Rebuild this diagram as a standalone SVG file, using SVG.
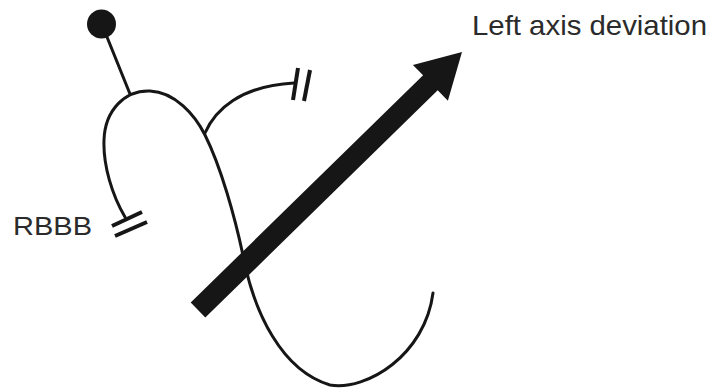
<svg xmlns="http://www.w3.org/2000/svg" width="713" height="388" viewBox="0 0 713 388">
<style>
.ln{fill:none;stroke:#161616;stroke-width:3;stroke-linecap:round}
.bar{fill:none;stroke:#161616;stroke-width:4;stroke-linecap:butt}
.lbl{font-family:"Liberation Sans",Arial,sans-serif;fill:#2b2b2b}
</style>
<rect width="713" height="388" fill="#ffffff"/>
<g id="connectors">
<line class="ln" x1="107" y1="37" x2="130" y2="94"/>
<path class="ln" d="M125,217 C112,195 103,165 104,140 C105,110 125,90 150,91 C175,92 195,115 205,135 C220,165 235,215 245,265 C255,310 280,370 330,385 C367,391 425,355 433,293"/>
<path class="ln" d="M205,133 C215,110 240,86 294,83"/>
<line class="bar" x1="112" y1="226" x2="142" y2="212"/>
<line class="bar" x1="115" y1="236" x2="147" y2="222"/>
<line class="bar" x1="298" y1="68" x2="293" y2="100"/>
<line class="bar" x1="310" y1="70" x2="304" y2="101"/>
</g>
<g id="origin-dot">
<circle cx="101.5" cy="24" r="14.5" fill="#161616"/>
</g>
<g id="axis-arrow">
<polygon fill="#161616" points="190.7,302.5 423.1,75.3 412.9,64.9 462,52 447.9,100.7 437.7,90.3 205.3,317.5"/>
</g>
<g id="label-lad">
<text class="lbl" x="472" y="35" font-size="28" textLength="235" lengthAdjust="spacingAndGlyphs">Left axis deviation</text>
</g>
<g id="label-rbbb">
<text class="lbl" x="13" y="235" font-size="25" textLength="79" lengthAdjust="spacingAndGlyphs">RBBB</text>
</g>
</svg>
